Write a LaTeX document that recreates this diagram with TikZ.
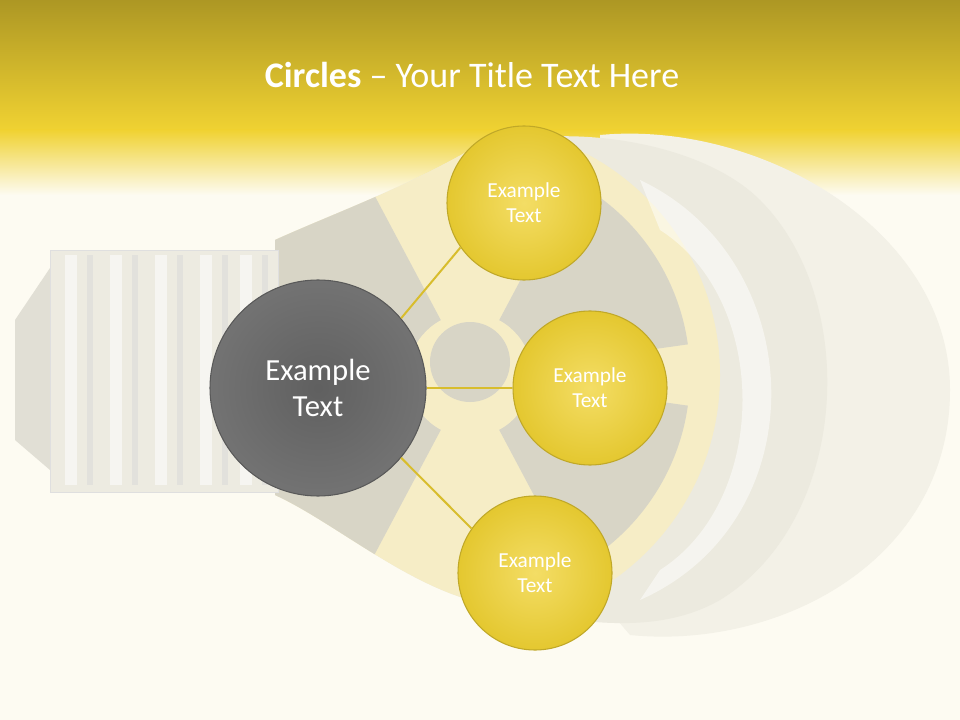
\documentclass[tikz,border=0pt]{standalone}
\usepackage{fontspec}
\setmainfont{Carlito}
\begin{document}
\begin{tikzpicture}[x=0.75pt,y=-0.75pt,
  small/.style={circle,minimum size=154*0.75pt,inner sep=0pt,draw=ybase!80!black,line width=0.8pt,
     inner color=ybase!75!white,outer color=ybase!95!black,text=white,font=\fontsize{16}{19}\selectfont,align=center},
  big/.style={circle,minimum size=216*0.75pt,inner sep=0pt,draw=gray!70!black,line width=0.8pt,
     inner color=gray!75!black,outer color=gray!90!black,text=white,font=\fontsize{23}{27}\selectfont,align=center},
  conn/.style={draw=ybase!90!black,line width=1.5pt}]
\definecolor{ybase}{HTML}{F0D232}
\definecolor{cream}{HTML}{FDFBF2}
\definecolor{bulb}{HTML}{ECEADF}
\definecolor{rad}{HTML}{D8D5C6}
\definecolor{radY}{HTML}{F6EDC6}
\useasboundingbox (0,0) rectangle (960,720);
\fill[cream] (0,0) rectangle (960,720);
\shade[top color=ybase!72!black, bottom color=ybase] (0,0) rectangle (960,130);
\shade[top color=ybase, bottom color=cream] (0,130) rectangle (960,195);
% bulb globe
\fill[bulb!60!cream] (600,135) .. controls (760,120) and (950,230) .. (950,390)
  .. controls (950,560) and (780,650) .. (630,635) -- (600,600) -- (600,160) -- cycle;
\fill[bulb] (275,240) .. controls (330,215) and (400,190) .. (470,150)
  .. controls (560,120) and (700,140) .. (760,200)
  .. controls (860,300) and (850,520) .. (720,600)
  .. controls (650,640) and (560,620) .. (470,600)
  .. controls (400,580) and (330,520) .. (275,495) -- cycle;
\begin{scope}
\clip (275,240) .. controls (330,215) and (400,190) .. (470,150)
  .. controls (560,120) and (700,140) .. (760,200)
  .. controls (860,300) and (850,520) .. (720,600)
  .. controls (650,640) and (560,620) .. (470,600)
  .. controls (400,580) and (330,520) .. (275,495) -- cycle;
\fill[radY] (470,375) circle (250);
\fill[rad] (470,375) -- ++(-8:220) arc[start angle=-8,end angle=-62,radius=220] -- cycle;
\fill[rad] (470,375) -- ++(8:220) arc[start angle=8,end angle=62,radius=220] -- cycle;
\fill[rad] (470,375) -- ++(118:260) arc[start angle=118,end angle=242,radius=260] -- cycle;
\fill[radY] (470,375) circle (62);
\fill[rad] (470,362) circle (40);
\fill[white,opacity=0.5] (660,230) .. controls (770,300) and (770,500) .. (660,570) -- (640,600) .. controls (820,520) and (810,260) .. (640,180) -- cycle;
\end{scope}
% screw base
\fill[bulb!90!gray] (15,320) -- (50,268) -- (50,470) -- (15,440) -- cycle;
\fill[bulb!95!white] (50,250) rectangle (278,492);
\foreach \x in {65,110,155,200,240}{
  \fill[white,opacity=0.55] (\x,255) rectangle (\x+12,485);
  \fill[gray!30,opacity=0.5] (\x+22,255) rectangle (\x+28,485);}
\draw[gray!25] (50,250) rectangle (278,492);
% title
\node[text=white,font=\fontsize{27}{32}\selectfont] (title) at (472,75) {\textbf{Circles} -- Your Title Text Here};
% circles
\node[big] (m) at (318,388) {Example\\Text};
\node[small] (a) at (524,203) {Example\\Text};
\node[small] (b) at (590,388) {Example\\Text};
\node[small] (c) at (535,573) {Example\\Text};
\draw[conn] (m.40) -- (a.215);
\draw[conn] (m.0) -- (b.180);
\draw[conn] (m.-40) -- (c.145);
\end{tikzpicture}
\end{document}
